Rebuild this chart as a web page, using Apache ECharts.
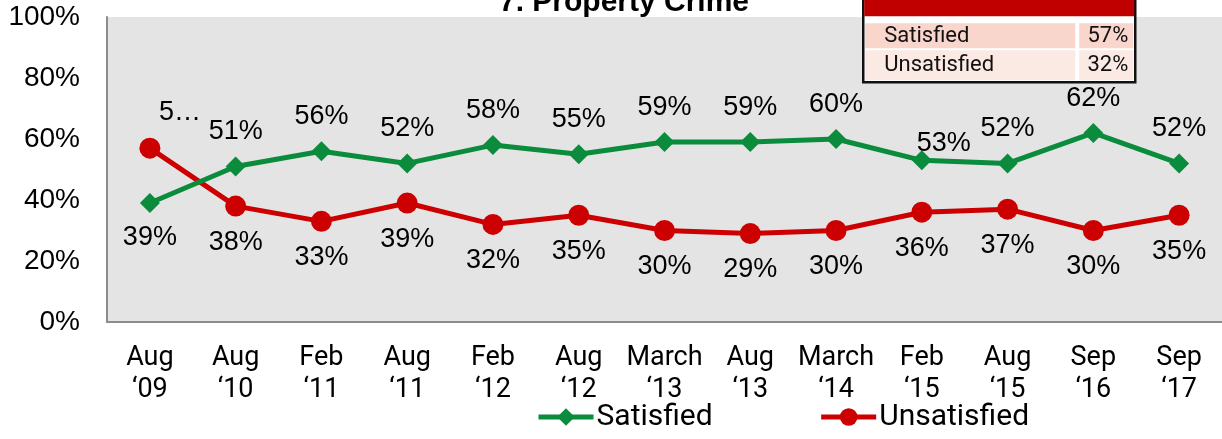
<!DOCTYPE html>
<html>
<head>
<meta charset="utf-8">
<script src="https://cdn.jsdelivr.net/npm/echarts@6/dist/echarts.min.js"></script>
<style>
  html, body { margin: 0; padding: 0; background: #fff; }
  #chart { width: 1222px; height: 439px; }
</style>
</head>
<body>
<div id="chart"></div>
<script>
// categories and values
const periods = ["Aug\n‘09", "Aug\n‘10", "Feb\n‘11", "Aug\n‘11", "Feb\n‘12", "Aug\n‘12", "March\n‘13",
  "Aug\n‘13", "March\n‘14", "Feb\n‘15", "Aug\n‘15", "Sep\n‘16", "Sep\n‘17"];
const satisfied = [39, 51, 56, 52, 58, 55, 59, 59, 60, 53, 52, 62, 52];
const unsatisfied = [57, 38, 33, 39, 32, 35, 30, 29, 30, 36, 37, 30, 35];
const yTicks = [0, 20, 40, 60, 80, 100];
const tableRows = [["Satisfied", "57%"], ["Unsatisfied", "32%"]];

const GREEN = "#0a8c3c";
const RED = "#cc0000";
const numFont = "Liberation Sans, Arial, sans-serif";
const narrowFont = "Roboto, Liberation Sans, sans-serif";

const chart = echarts.init(document.getElementById("chart"));

// per-point label tweaks where the original moved them
const greenData = satisfied.map((v, i) => {
  if (i === 0) return { value: v, label: { position: "bottom" } };
  if (i === 9) return { value: v, label: { offset: [22, 18] } };
  return v;
});
const redData = unsatisfied.map((v, i) => {
  if (i === 0) return { value: v, label: { position: "top", offset: [30, 0], formatter: "5…" } };
  return v;
});

chart.setOption({
  backgroundColor: "#fff",
  animation: false,
  title: {
    text: "7. Property Crime",
    left: 619,
    top: -17,
    textAlign: "center",
    textStyle: { fontFamily: numFont, fontSize: 30, fontWeight: "bold", color: "#000" }
  },
  grid: { left: 107, right: 0, top: 17, bottom: 117, show: true, backgroundColor: "#e4e4e4", borderWidth: 0 },
  legend: {
    left: 531,
    top: 397,
    itemWidth: 55,
    itemHeight: 22,
    itemGap: 106,
    lineStyle: { width: 5 },
    textStyle: { fontFamily: narrowFont, fontSize: 30, color: "#000", padding: [0, 0, 0, -2] },
    data: ["Satisfied", "Unsatisfied"]
  },
  xAxis: {
    type: "category",
    data: periods,
    boundaryGap: true,
    axisLine: { lineStyle: { color: "#8c8c8c", width: 2 } },
    axisTick: { show: false },
    axisLabel: { fontFamily: narrowFont, fontSize: 27, color: "#000", lineHeight: 32, margin: 20, interval: 0 }
  },
  yAxis: {
    type: "value",
    min: yTicks[0],
    max: yTicks[yTicks.length - 1],
    interval: 20,
    axisLine: { show: true, lineStyle: { color: "#8c8c8c", width: 2 } },
    axisTick: { show: false },
    splitLine: { show: false },
    axisLabel: { formatter: "{value}%", fontFamily: numFont, fontSize: 28, color: "#000", margin: 27 }
  },
  series: [
    {
      name: "Satisfied",
      type: "line",
      data: greenData,
      symbol: "diamond",
      symbolSize: 20,
      itemStyle: { color: GREEN },
      lineStyle: { color: GREEN, width: 5 },
      label: { show: true, position: "top", distance: 11, formatter: "{c}%",
        fontFamily: numFont, fontSize: 27, color: "#000" },
      z: 3
    },
    {
      name: "Unsatisfied",
      type: "line",
      data: redData,
      symbol: "circle",
      symbolSize: 21,
      itemStyle: { color: RED },
      lineStyle: { color: RED, width: 5 },
      label: { show: true, position: "bottom", distance: 12, formatter: "{c}%",
        fontFamily: numFont, fontSize: 27, color: "#000" },
      z: 2
    }
  ],
  graphic: [
    {
      type: "group",
      left: 862,
      top: -2,
      children: [
        { type: "rect", shape: { x: 0, y: 0, width: 272, height: 83 }, style: { fill: "#fff", stroke: "#111", lineWidth: 2.5 } },
        { type: "rect", shape: { x: 1, y: 0, width: 270, height: 17 }, style: { fill: "#c00000" } },
        { type: "rect", shape: { x: 2, y: 24, width: 210, height: 25 }, style: { fill: "#f8d6cc" } },
        { type: "rect", shape: { x: 216, y: 24, width: 54, height: 25 }, style: { fill: "#f8d6cc" } },
        { type: "rect", shape: { x: 2, y: 51, width: 210, height: 30 }, style: { fill: "#fbe9e4" } },
        { type: "rect", shape: { x: 216, y: 51, width: 54, height: 30 }, style: { fill: "#fbe9e4" } },
        { type: "text", x: 21, y: 37, style: { text: tableRows[0][0], fontFamily: narrowFont, fontSize: 22, fill: "#111", verticalAlign: "middle" } },
        { type: "text", x: 265, y: 37, style: { text: tableRows[0][1], fontFamily: narrowFont, fontSize: 22, fill: "#111", align: "right", verticalAlign: "middle" } },
        { type: "text", x: 21, y: 66, style: { text: tableRows[1][0], fontFamily: narrowFont, fontSize: 22, fill: "#111", verticalAlign: "middle" } },
        { type: "text", x: 265, y: 66, style: { text: tableRows[1][1], fontFamily: narrowFont, fontSize: 22, fill: "#111", align: "right", verticalAlign: "middle" } }
      ]
    }
  ]
});
</script>
</body>
</html>
